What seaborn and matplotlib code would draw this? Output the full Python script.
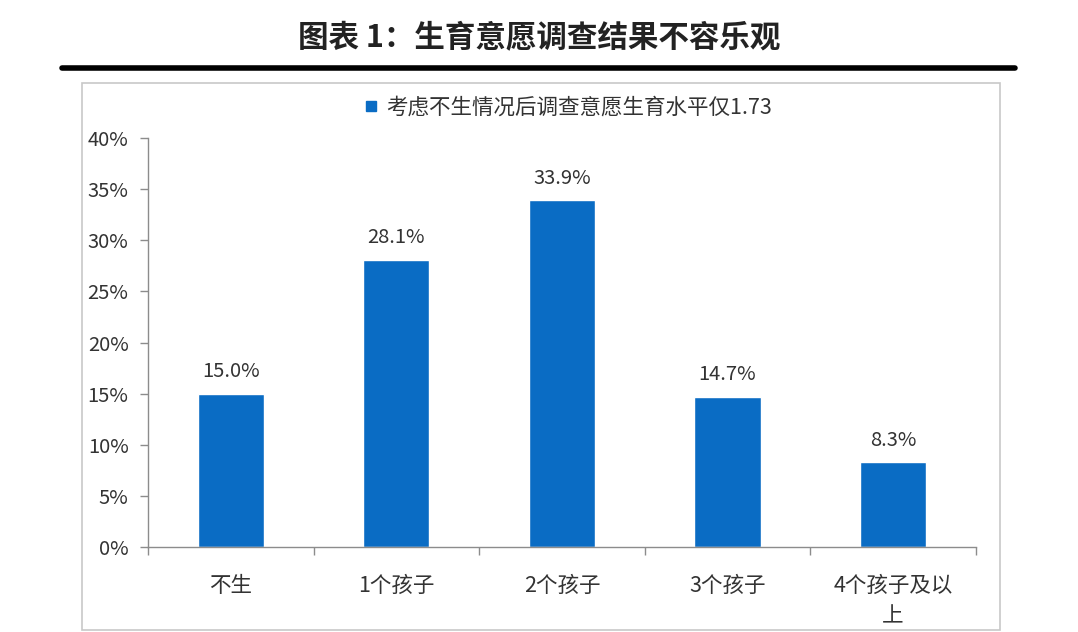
import seaborn as sns
import matplotlib.pyplot as plt
from matplotlib.patches import Rectangle
from matplotlib.lines import Line2D
from matplotlib.ticker import FixedLocator, PercentFormatter
import pandas as pd

# data
categories = ["不生", "1个孩子", "2个孩子", "3个孩子", "4个孩子及以\n上"]
shares = [15.0, 28.1, 33.9, 14.7, 8.3]
series_name = "考虑不生情况后调查意愿生育水平仅1.73"
title = "图表 1：生育意愿调查结果不容乐观"

bar_color = "#0a6cc4"
text_color = "#333333"
axis_color = "#8c8c8c"

sns.set_theme(style="white")
plt.rcParams['font.family'] = ['Noto Sans CJK SC', 'DejaVu Sans']

df = pd.DataFrame({"cat": categories, "share": shares})

fig = plt.figure(figsize=(10.78, 6.32), dpi=100)
ax = fig.add_axes([0.1373, 0.1345, 0.768, 0.647])

sns.barplot(data=df, x="cat", y="share", color=bar_color, width=0.4,
            saturation=1, ax=ax, legend=False)

# value labels
for i, v in enumerate(shares):
    ax.text(i, v + 1.1, f"{v:.1f}%", ha="center", va="bottom",
            fontsize=14.5, color=text_color)

ax.set_ylim(0, 40)
ax.set_xlim(-0.5, len(categories) - 0.5)
ax.set_yticks(range(0, 41, 5))
ax.yaxis.set_major_formatter(PercentFormatter(decimals=0))
ax.set_xlabel("")
ax.set_ylabel("")

# Excel style ticks between categories
ax.xaxis.set_minor_locator(FixedLocator([i - 0.5 for i in range(len(categories) + 1)]))
ax.tick_params(axis="x", which="major", length=0, pad=20, labelsize=15.5, labelcolor=text_color)
ax.tick_params(axis="x", which="minor", length=6, color=axis_color, width=1, direction="out", bottom=True)
ax.tick_params(axis="y", which="major", length=6, color=axis_color, width=1, direction="out",
               left=True, pad=8, labelsize=14.5, labelcolor=text_color)
for lab in ax.get_xticklabels():
    lab.set_linespacing(1.5)

for side in ["top", "right"]:
    ax.spines[side].set_visible(False)
for side in ["left", "bottom"]:
    ax.spines[side].set_color(axis_color)
    ax.spines[side].set_linewidth(1)

# legend at top of the box
handles = [Line2D([], [], marker="s", linestyle="", markersize=7,
                  color=bar_color, label=series_name)]
fig.legend(handles=handles, loc="center", bbox_to_anchor=(0.525, 1 - 108 / 632),
           frameon=False, fontsize=15.5, handletextpad=0.2, handlelength=1.0,
           labelcolor=text_color)

# title and frame decorations
fig.text(0.5, 1 - 38 / 632, title, ha="center", va="center", fontsize=22,
         fontweight="semibold", color="#222222")
fig.add_artist(Line2D([62 / 1078, 1015 / 1078], [1 - 68 / 632, 1 - 68 / 632],
                      transform=fig.transFigure, color="black", linewidth=4))
fig.add_artist(Rectangle((82 / 1078, 2 / 632), (1000 - 82) / 1078, (630 - 83) / 632,
                         transform=fig.transFigure, fill=False,
                         edgecolor="#c8c8c8", linewidth=1.2))

fig.savefig("out.png", dpi=100)
